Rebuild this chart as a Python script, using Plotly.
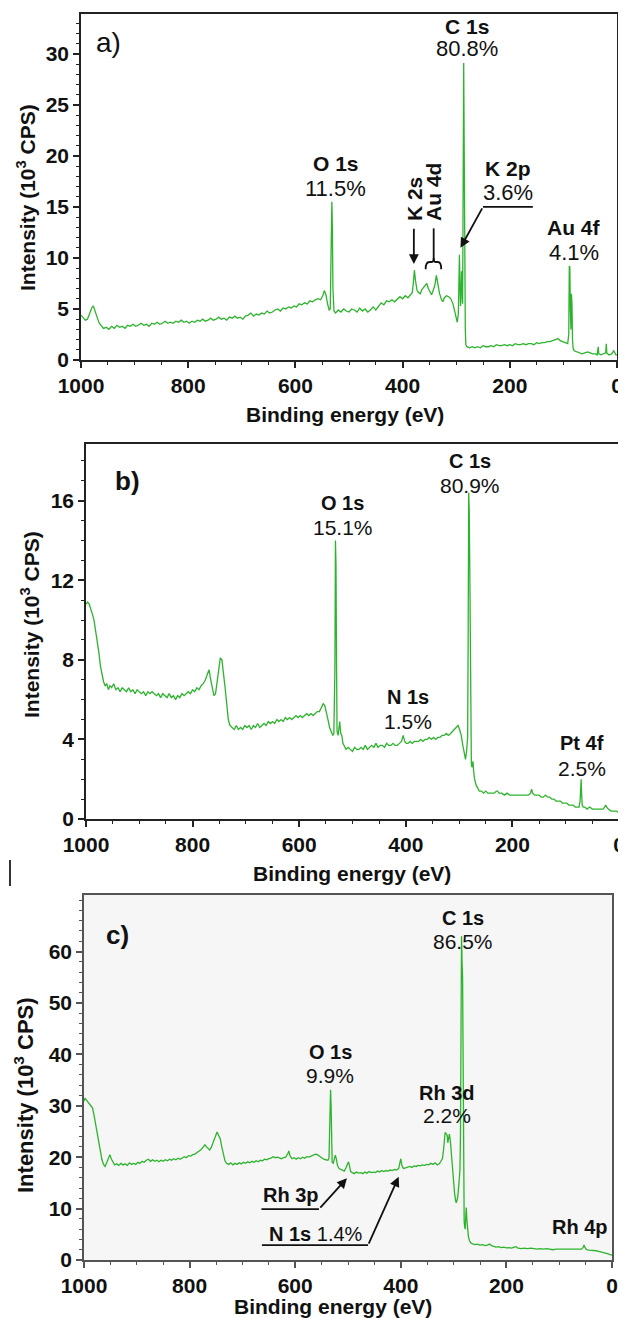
import plotly.graph_objects as go

# ---------------- data ----------------
be_a = [1000, 996, 992, 988, 984, 980, 977, 974, 970, 966, 962, 958, 953, 948, 943, 938, 933, 928, 923, 918,
        913, 908, 903, 898, 893, 888, 883, 878, 873, 868, 863, 858, 853, 848, 843, 838, 833, 828, 823, 818,
        813, 808, 803, 798, 793, 788, 783, 778, 773, 768, 763, 758, 753, 748, 743, 738, 733, 728, 723, 718,
        713, 708, 703, 698, 693, 688, 683, 678, 673, 668, 663, 658, 653, 648, 643, 638, 633, 628, 623, 618,
        613, 608, 603, 598, 593, 588, 583, 578, 573, 568, 563, 558, 553, 549, 546, 543, 540, 537, 535, 533,
        532, 531, 530, 528, 525, 520, 515, 510, 505, 500, 495, 490, 485, 480, 475, 470, 465, 460, 455, 450,
        445, 440, 435, 430, 425, 420, 415, 410, 405, 400, 395, 390, 385, 382, 380, 378, 376, 373, 370, 367,
        364, 361, 358, 355, 352, 349, 346, 343, 340, 337, 334, 331, 328, 325, 322, 318, 314, 310, 306, 303,
        300, 298, 296, 295, 294, 293, 292, 291, 290, 289, 288, 287, 286, 285, 284, 283, 282, 280, 275, 270,
        265, 260, 255, 250, 245, 240, 235, 230, 225, 220, 215, 210, 205, 200, 195, 190, 185, 180, 175, 170,
        165, 160, 155, 150, 145, 140, 135, 130, 125, 120, 115, 110, 106, 102, 98, 95, 92, 90, 89, 88,
        87, 86, 85, 84, 83, 82, 80, 75, 70, 65, 60, 55, 50, 45, 40, 37, 35, 34, 30, 25,
        21, 20, 19, 15, 10, 6, 4, 2, 0]
cps_a = [4.4, 4.1, 3.9, 4.0, 4.6, 5.1, 5.3, 4.9, 4.2, 3.6, 3.3, 3.1, 3.2, 3.0, 3.3, 3.1, 3.4, 3.2, 3.3, 3.1,
         3.4, 3.3, 3.5, 3.3, 3.4, 3.6, 3.4, 3.5, 3.3, 3.6, 3.5, 3.7, 3.5, 3.6, 3.8, 3.6, 3.7, 3.6, 3.8, 3.7,
         3.9, 3.7, 3.8, 3.6, 3.8, 3.7, 3.9, 3.8, 4.0, 3.8, 3.9, 4.1, 3.9, 4.0, 4.2, 4.0, 4.1, 3.9, 4.2, 4.1,
         4.3, 4.1, 4.2, 4.0, 4.3, 4.4, 4.6, 4.3, 4.5, 4.4, 4.6, 4.5, 4.8, 4.6, 4.7, 4.9, 5.0, 4.8, 5.1, 5.0,
         5.2, 5.1, 5.3, 5.2, 5.5, 5.4, 5.6, 5.5, 5.8, 5.7, 5.9, 6.0, 5.9, 6.3, 6.8, 6.4, 5.5, 4.9, 5.0, 11.0,
         15.5, 13.0, 7.0, 4.8, 4.6, 4.9, 4.7, 5.0, 4.8, 4.7, 5.0, 4.9, 4.7, 5.1, 4.8, 5.0, 4.7, 4.9, 5.2, 4.9,
         5.3, 5.6, 5.4, 5.8, 5.7, 5.9, 5.7, 6.0, 6.2, 6.0, 6.3, 6.1, 6.4, 6.6, 7.5, 8.8, 7.8, 6.8, 6.6, 6.5,
         6.9, 7.1, 7.4, 7.5, 7.0, 6.6, 6.4, 6.8, 7.3, 8.3, 7.2, 6.5, 6.0, 5.7, 6.1, 6.3, 6.2, 6.0, 5.5, 4.9,
         4.2, 3.7, 4.5, 9.0, 10.3, 7.5, 5.3, 6.0, 8.7, 8.6, 5.5, 23.4, 29.1, 20.0, 6.0, 3.0, 1.5, 1.3, 1.2, 1.3,
         1.2, 1.3, 1.2, 1.4, 1.3, 1.3, 1.4, 1.3, 1.5, 1.4, 1.4, 1.5, 1.4, 1.5, 1.4, 1.6, 1.5, 1.5, 1.6, 1.5,
         1.6, 1.6, 1.5, 1.7, 1.6, 1.7, 1.7, 1.8, 1.8, 1.9, 2.0, 2.1, 1.9, 1.8, 1.7, 1.6, 1.6, 2.5, 9.2, 9.1,
         5.0, 3.0, 6.5, 5.5, 2.0, 1.2, 0.9, 0.8, 0.7, 0.6, 0.7, 0.8, 0.7, 0.6, 0.6, 0.5, 1.3, 0.6, 0.5, 0.6,
         0.7, 1.6, 0.7, 0.5, 0.6, 0.9, 0.7, 0.5, 0.5]

be_b = [1000, 997, 994, 991, 988, 985, 982, 979, 976, 973, 970, 967, 964, 961, 958, 955, 952, 948, 944, 940,
        936, 932, 928, 924, 920, 916, 912, 908, 904, 900, 896, 892, 888, 884, 880, 876, 872, 868, 864, 860,
        856, 852, 848, 844, 840, 836, 832, 828, 824, 820, 816, 812, 808, 804, 800, 796, 792, 788, 784, 780,
        776, 772, 769, 766, 763, 760, 757, 754, 751, 748, 745, 742, 739, 736, 733, 730, 726, 722, 718, 714,
        710, 706, 702, 698, 694, 690, 686, 682, 678, 674, 670, 666, 662, 658, 654, 650, 646, 642, 638, 634,
        630, 626, 622, 618, 614, 610, 606, 602, 598, 594, 590, 586, 582, 578, 574, 570, 566, 562, 558, 555,
        552, 549, 546, 543, 540, 537, 535, 533, 532, 531, 530, 529, 527, 525, 524, 522, 520, 518, 515, 512,
        508, 504, 500, 496, 492, 488, 484, 480, 476, 472, 468, 464, 460, 456, 452, 448, 444, 440, 436, 432,
        428, 424, 420, 416, 412, 408, 405, 402, 399, 396, 392, 388, 384, 380, 376, 372, 368, 364, 360, 356,
        352, 348, 344, 340, 336, 332, 328, 324, 320, 316, 312, 308, 305, 302, 299, 296, 293, 290, 288, 286,
        284, 283, 282, 281, 280, 279, 278, 277, 276, 275, 274, 273, 271, 268, 265, 262, 258, 254, 250, 246,
        242, 238, 234, 230, 228, 225, 220, 215, 210, 205, 200, 195, 190, 185, 180, 175, 170, 166, 164, 162,
        158, 154, 150, 146, 142, 138, 134, 130, 126, 122, 118, 114, 110, 106, 102, 98, 94, 90, 86, 82,
        78, 75, 73, 72, 71, 70, 69, 67, 64, 60, 55, 50, 45, 40, 35, 30, 27, 25, 23, 20,
        15, 10, 5, 0]
cps_b = [10.8, 10.9, 10.8, 10.6, 10.3, 10.0, 9.5, 9.0, 8.4, 7.7, 7.3, 6.9, 6.7, 6.8, 6.5, 6.7, 6.6, 6.8, 6.5, 6.6,
         6.4, 6.6, 6.5, 6.4, 6.6, 6.4, 6.5, 6.3, 6.5, 6.4, 6.3, 6.4, 6.2, 6.4, 6.3, 6.4, 6.3, 6.2, 6.3, 6.1,
         6.3, 6.2, 6.1, 6.3, 6.1, 6.2, 6.0, 6.2, 6.1, 6.3, 6.2, 6.3, 6.4, 6.3, 6.5, 6.4, 6.6, 6.5, 6.7, 6.8,
         7.0, 7.3, 7.5, 7.0, 6.5, 6.2, 6.3, 7.0, 7.6, 8.1, 8.0, 7.4, 6.6, 5.8, 5.0, 4.7, 4.6, 4.5, 4.7, 4.5,
         4.6, 4.5, 4.7, 4.6, 4.7, 4.5, 4.7, 4.6, 4.8, 4.6, 4.7, 4.8, 4.7, 4.9, 4.8, 4.9, 4.8, 5.0, 4.9, 5.0,
         4.9, 5.1, 5.0, 5.1, 5.0, 5.1, 5.2, 5.1, 5.2, 5.1, 5.2, 5.3, 5.2, 5.3, 5.2, 5.3, 5.4, 5.4, 5.6, 5.8,
         5.7, 5.4, 5.0, 4.6, 4.4, 4.2, 4.3, 7.5, 14.0, 12.8, 8.0, 4.4, 4.2, 4.8, 4.9, 4.3, 4.2, 3.8, 3.6, 3.5,
         3.6, 3.5, 3.4, 3.6, 3.5, 3.5, 3.6, 3.5, 3.7, 3.5, 3.6, 3.7, 3.6, 3.8, 3.6, 3.7, 3.7, 3.6, 3.8, 3.7,
         3.7, 3.8, 3.7, 3.7, 3.8, 3.9, 4.2, 3.9, 3.8, 3.8, 3.9, 3.8, 3.9, 3.9, 3.9, 4.0, 3.9, 4.0, 4.0, 4.1,
         4.0, 4.1, 4.0, 4.1, 4.1, 4.2, 4.2, 4.3, 4.2, 4.3, 4.4, 4.5, 4.6, 4.7, 4.5, 4.2, 3.7, 3.2, 3.0, 3.4,
         4.1, 9.0, 16.4, 15.5, 12.8, 8.0, 3.5, 2.8, 2.6, 2.8, 2.9, 2.5, 2.0, 1.7, 1.5, 1.4, 1.4, 1.3, 1.4, 1.3,
         1.3, 1.3, 1.3, 1.4, 1.4, 1.3, 1.3, 1.2, 1.3, 1.2, 1.2, 1.2, 1.2, 1.2, 1.2, 1.2, 1.2, 1.3, 1.5, 1.3,
         1.2, 1.2, 1.2, 1.1, 1.1, 1.2, 1.1, 1.1, 1.0, 1.0, 0.9, 0.9, 0.9, 0.8, 0.8, 0.8, 0.7, 0.7, 0.7, 0.6,
         0.6, 0.6, 0.9, 1.7, 2.0, 1.2, 0.7, 0.6, 0.6, 0.5, 0.6, 0.5, 0.5, 0.5, 0.5, 0.5, 0.6, 0.7, 0.6, 0.5,
         0.4, 0.4, 0.4, 0.3]

be_c = [1000, 998, 996, 993, 990, 987, 984, 981, 978, 975, 972, 969, 966, 963, 960, 957, 954, 951, 948, 945,
        942, 938, 934, 930, 926, 922, 918, 914, 910, 906, 902, 898, 894, 890, 886, 882, 878, 874, 870, 866,
        862, 858, 854, 850, 846, 842, 838, 834, 830, 826, 822, 818, 814, 810, 806, 802, 798, 794, 790, 786,
        782, 778, 774, 771, 768, 765, 762, 759, 756, 753, 750, 748, 745, 742, 739, 736, 733, 730, 726, 722,
        718, 714, 710, 706, 702, 698, 694, 690, 686, 682, 678, 674, 670, 666, 662, 658, 654, 650, 646, 642,
        638, 634, 630, 626, 622, 618, 614, 612, 610, 606, 602, 598, 594, 590, 586, 582, 578, 574, 570, 566,
        562, 558, 554, 550, 546, 542, 538, 536, 534, 533, 532, 531, 530, 528, 526, 524, 522, 520, 517, 514,
        510, 507, 504, 501, 499, 497, 495, 492, 488, 484, 480, 476, 472, 468, 464, 460, 456, 452, 448, 444,
        440, 436, 432, 428, 424, 420, 416, 412, 408, 404, 402, 400, 398, 395, 391, 387, 383, 379, 375, 371,
        367, 363, 359, 355, 351, 347, 343, 339, 335, 331, 327, 324, 321, 319, 318, 316, 314, 312, 311, 310,
        308, 306, 304, 302, 300, 298, 296, 295, 293, 292, 290, 288, 287, 286, 285, 284, 283, 282, 281, 280,
        279, 278, 277, 276, 275, 274, 272, 270, 268, 265, 260, 255, 250, 245, 240, 236, 232, 228, 224, 220,
        215, 210, 205, 200, 195, 190, 185, 182, 178, 172, 166, 160, 154, 148, 142, 136, 130, 124, 118, 112,
        106, 100, 94, 88, 82, 76, 70, 64, 58, 55, 53, 51, 48, 44, 40, 35, 30, 25, 20, 15,
        10, 7, 5, 2, 0]
cps_c = [30.9, 31.5, 31.2, 30.8, 30.2, 30.0, 29.6, 28.2, 26.3, 24.5, 22.5, 20.8, 19.5, 18.6, 18.2, 18.9, 19.6, 20.5, 19.6, 18.9,
         18.5, 18.7, 18.4, 18.8, 18.5, 18.7, 18.4, 18.9, 18.6, 18.8, 18.6, 19.0, 18.8, 19.2, 19.0, 19.4, 19.6, 19.2, 19.5, 19.2,
         19.4, 19.1, 19.4, 19.2, 19.5, 19.3, 19.6, 19.4, 19.7, 19.5, 19.8, 19.6, 19.9, 20.1, 19.9, 20.3, 20.2, 20.5, 20.6, 20.9,
         21.1, 21.5, 22.0, 22.4, 22.0, 21.6, 21.4, 21.9, 22.7, 23.8, 24.6, 24.9, 24.2, 23.6, 22.0, 20.5, 19.3, 18.8, 18.6, 18.9,
         18.5, 18.8, 18.6, 18.9, 18.7, 19.0, 18.8, 19.1, 18.9, 19.2, 19.0, 19.3, 19.1, 19.4, 19.3, 19.6, 19.5, 19.7, 19.8, 20.1,
         19.9, 20.0, 19.8, 19.7, 19.9, 20.0, 20.7, 21.2, 20.3, 19.7, 19.9, 19.6, 19.9, 19.7, 20.0, 19.8, 20.1, 20.0, 20.2, 20.4,
         20.6, 20.5, 20.2, 20.0, 19.6, 19.5, 19.4, 19.8, 26.0, 33.1, 30.0, 22.0, 19.0, 18.8, 19.5, 20.4, 19.6, 18.4, 17.8, 17.6,
         17.5, 17.3, 17.9, 18.6, 19.1, 18.2, 17.2, 17.0, 16.8, 17.1, 16.9, 17.0, 16.8, 17.1, 16.9, 17.2, 17.0, 17.1, 17.0, 17.3,
         17.1, 17.4, 17.2, 17.4, 17.3, 17.5, 17.4, 17.6, 17.5, 17.8, 18.8, 19.7, 18.4, 17.8, 17.9, 18.0, 18.2, 18.0, 18.3, 18.2,
         18.4, 18.3, 18.5, 18.4, 18.6, 18.5, 18.8, 18.6, 18.9, 18.5, 18.7, 19.2, 19.8, 21.5, 23.2, 24.8, 24.6, 24.2, 22.8, 23.6,
         24.5, 23.0, 20.5, 17.0, 14.9, 12.8, 11.5, 11.1, 11.8, 12.4, 14.8, 17.5, 24.0, 45.0, 63.0, 58.0, 55.0, 30.0, 9.9, 7.5,
         6.5, 6.0, 8.5, 10.2, 8.0, 6.0, 4.6, 3.8, 3.4, 3.2, 3.0, 3.1, 2.9, 3.0, 2.8, 2.9, 3.1, 2.8, 2.6, 2.5,
         2.6, 2.4, 2.5, 2.35, 2.4, 2.3, 2.5, 2.6, 2.3, 2.2, 2.3, 2.2, 2.3, 2.2, 2.1, 2.2, 2.1, 2.2, 2.1, 2.0,
         2.1, 2.1, 2.0, 2.1, 2.0, 2.1, 2.0, 2.0, 2.1, 2.4, 2.9, 2.4, 2.0, 1.9, 1.9, 1.8, 1.8, 1.7, 1.6, 1.4,
         1.3, 1.2, 1.1, 1.0, 0.95]

x_ticks = [1000, 800, 600, 400, 200, 0]
y_ticks_a = [0, 5, 10, 15, 20, 25, 30]
y_ticks_b = [0, 4, 8, 12, 16]
y_ticks_c = [0, 10, 20, 30, 40, 50, 60]

# ---------------- figure ----------------
# The page adds an 8 px body margin, so the figure is 8 px smaller than the
# 626x1318 window and every page-pixel position is shifted by that offset.
OFF = 8
W, H = 626 - OFF, 1318 - OFF
FONT = "Liberation Sans"
GREEN = "#2db42d"

def px_x(p):
    return (p - OFF) / W

def px_y(p):
    return 1 - (p - OFF) / H

fig = go.Figure()
fig.add_trace(go.Scatter(x=be_a, y=cps_a, mode="lines", line=dict(color=GREEN, width=1.3),
                         xaxis="x", yaxis="y", showlegend=False, hoverinfo="skip"))
fig.add_trace(go.Scatter(x=be_b, y=cps_b, mode="lines", line=dict(color=GREEN, width=1.3),
                         xaxis="x2", yaxis="y2", showlegend=False, hoverinfo="skip"))
fig.add_trace(go.Scatter(x=be_c, y=cps_c, mode="lines", line=dict(color=GREEN, width=1.3),
                         xaxis="x3", yaxis="y3", showlegend=False, hoverinfo="skip"))

tickfont = dict(family=FONT, size=21, color="#111", weight="bold")

def xax(domain, anchor, lc="#222"):
    return dict(domain=domain, anchor=anchor, range=[1000, 0], tickmode="array", tickvals=x_ticks,
                ticks="outside", ticklen=6, tickwidth=1.5, tickcolor=lc, automargin=False,
                minor=dict(dtick=50, tick0=0, ticks="outside", ticklen=3.5, tickwidth=1.2, tickcolor=lc),
                showline=True, linecolor=lc, linewidth=1.5, mirror=True, ticklabeloverflow="allow",
                showgrid=False, zeroline=False, tickfont=tickfont, fixedrange=True)

def yax(domain, anchor, rng, tv, mdt, lc="#222"):
    return dict(domain=domain, anchor=anchor, range=rng, tickmode="array", tickvals=tv,
                ticks="outside", ticklen=6, tickwidth=1.5, tickcolor=lc, automargin=False,
                minor=dict(dtick=mdt, tick0=0, ticks="outside", ticklen=3.5, tickwidth=1.2, tickcolor=lc),
                showline=True, linecolor=lc, linewidth=1.5, mirror=True,
                showgrid=False, zeroline=False, tickfont=tickfont, fixedrange=True)

fig.update_layout(
    width=W, height=H, margin=dict(l=0, r=0, t=0, b=0, autoexpand=False),
    paper_bgcolor="white", plot_bgcolor="rgba(0,0,0,0)",
    showlegend=False,
    xaxis=xax([px_x(81), px_x(617)], "y"),
    yaxis=yax([px_y(360), px_y(14)], "x", [0, 33.9], y_ticks_a, 1),
    xaxis2=xax([px_x(86), px_x(619)], "y2"),
    yaxis2=yax([px_y(819), px_y(444)], "x2", [0, 18.85], y_ticks_b, 1),
    xaxis3=xax([px_x(84), px_x(612)], "y3", lc="#555"),
    yaxis3=yax([px_y(1260), px_y(895)], "x3", [0, 71], y_ticks_c, 2, lc="#555"),
)

ann = []
shapes = []

def label(x, y, text, ax_="", size=20, bold=True, angle=0, xanchor="center", yanchor="middle"):
    ann.append(dict(x=x, y=y, xref="x" + ax_, yref="y" + ax_, text=text, showarrow=False,
                    textangle=angle, xanchor=xanchor, yanchor=yanchor,
                    font=dict(family=FONT, size=size, color="#111", weight="bold" if bold else "normal")))

def arrow(x, y, tx, ty, ax_=""):
    ann.append(dict(x=x, y=y, ax=tx, ay=ty, xref="x" + ax_, yref="y" + ax_,
                    axref="x" + ax_, ayref="y" + ax_, text="", showarrow=True,
                    arrowhead=2, arrowsize=1.1, arrowwidth=1.8, arrowcolor="#111", standoff=0))

def seg(x0, y0, x1, y1, ax_=""):
    shapes.append(dict(type="line", x0=x0, y0=y0, x1=x1, y1=y1, xref="x" + ax_, yref="y" + ax_,
                       line=dict(color="#111", width=1.8)))

# panel a
label(948, 31.1, "a)", size=28, bold=False)
label(279, 32.7, "C 1s", size=21)
label(279, 30.5, "80.8%", size=22, bold=False)
label(525, 19.3, "O 1s", size=21)
label(525, 16.8, "11.5%", size=22, bold=False)
label(203, 18.8, "K 2p", size=21)
label(203, 16.4, "3.6%", size=22, bold=False)
label(80, 13.0, "Au 4f", size=21)
label(80, 10.5, "4.1%", size=22, bold=False)
label(379, 13.4, "K 2s", size=21, angle=-90, yanchor="bottom")
label(342, 13.4, "Au 4d", size=21, angle=-90, yanchor="bottom")
arrow(379, 9.4, 379, 13.0)
seg(342, 12.9, 342, 9.6)
shapes.append(dict(type="path", xref="x", yref="y", line=dict(color="#111", width=1.8),
                   path="M 357,8.9 Q 357,9.6 350,9.6 L 346,9.6 Q 342,9.6 342,10.0 "
                        "Q 342,9.6 338,9.6 L 334,9.6 Q 328,9.6 328,8.9"))
seg(250, 15.0, 157, 15.0)
arrow(292, 11.0, 250, 15.0)

# panel b
label(923, 17.0, "b)", "2", size=26)
label(279, 18.0, "C 1s", "2", size=20)
label(279, 16.75, "80.9%", "2", size=21, bold=False)
label(518, 15.9, "O 1s", "2", size=20)
label(518, 14.65, "15.1%", "2", size=21, bold=False)
label(395, 6.13, "N 1s", "2", size=20)
label(395, 4.88, "1.5%", "2", size=21, bold=False)
label(70, 3.8, "Pt 4f", "2", size=20)
label(70, 2.54, "2.5%", "2", size=21, bold=False)

# panel c
label(937, 63.2, "c)", "3", size=26)
label(283, 66.5, "C 1s", "3", size=20)
label(283, 62.0, "86.5%", "3", size=21, bold=False)
label(534, 40.4, "O 1s", "3", size=20)
label(534, 35.9, "9.9%", "3", size=21, bold=False)
label(313, 32.4, "Rh 3d", "3", size=20)
label(313, 28.1, "2.2%", "3", size=21, bold=False)
label(60, 6.4, "Rh 4p", "3", size=20)
label(608, 12.6, "Rh 3p", "3", size=20)
seg(664, 9.9, 555, 9.9, "3")
arrow(502, 15.9, 555, 9.9, "3")
label(560, 5.1, "N 1s <span style='font-weight:normal'>1.4%</span>", "3", size=20)
seg(663, 2.9, 462, 2.9, "3")
arrow(404, 16.2, 462, 2.9, "3")

# axis titles (paper coordinates)
def ptitle(x, y, text, size, angle=0):
    ann.append(dict(x=px_x(x), y=px_y(y), xref="paper", yref="paper", text=text, showarrow=False,
                    textangle=angle, xanchor="center", yanchor="middle",
                    font=dict(family=FONT, size=size, color="#111", weight="bold")))

ytitle = "Intensity (10<sup>3</sup> CPS)"
xtitle = "Binding energy (eV)"
ptitle(345, 415, xtitle, 21)
ptitle(352, 873, xtitle, 21)
ptitle(333, 1306, xtitle, 21)
ptitle(26, 198, ytitle, 21, -90)
ptitle(30, 625, ytitle, 21, -90)
ptitle(24, 1095, ytitle, 22, -90)

# panel c light background and small stray mark
shapes.append(dict(type="rect", xref="x3 domain", yref="y3 domain", x0=0, x1=1, y0=0, y1=1,
                   fillcolor="#f6f6f6", line=dict(width=0), layer="below"))
shapes.append(dict(type="line", xref="paper", yref="paper", x0=px_x(10), x1=px_x(10),
                   y0=px_y(860), y1=px_y(886), line=dict(color="#333", width=2)))

fig.update_layout(annotations=ann, shapes=shapes)
fig.write_html("out.html")
